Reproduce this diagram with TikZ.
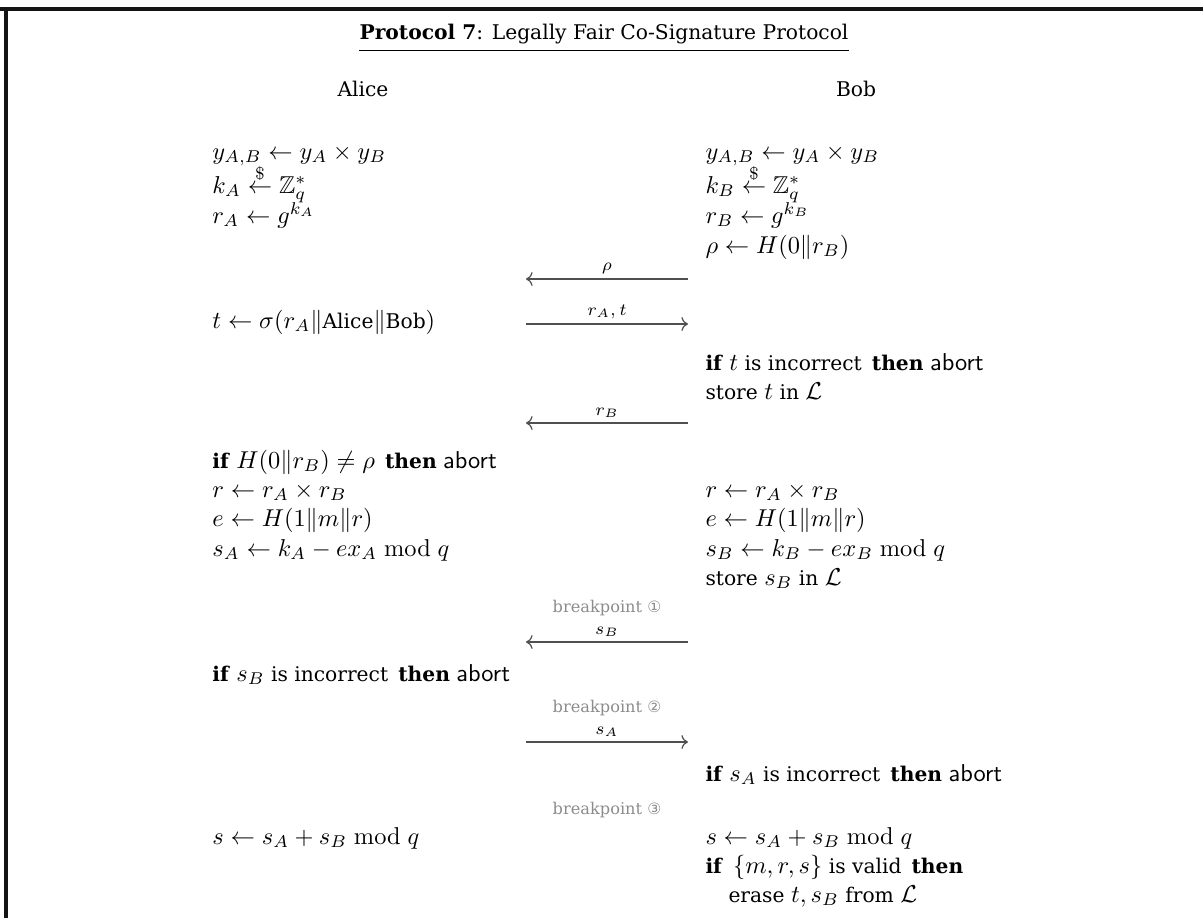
\documentclass[tikz,border=0pt]{standalone}
\usepackage[no-math]{fontspec}
\usepackage{amsmath,amssymb}
\usepackage{xcolor}
\usepackage{tikz}
\usetikzlibrary{arrows.meta, positioning}
\setmainfont{DejaVu Serif}[Scale=0.83]
\newfontfamily\circfont{DejaVu Sans}[Scale=0.8]
\definecolor{msgdark}{RGB}{80,80,80}
\definecolor{bpgray}{RGB}{140,140,140}
\definecolor{framedark}{RGB}{20,20,20}
\newcommand{\kw}[1]{\textbf{#1}}
\newcommand{\abrt}{\textsf{abort}}
\newcommand{\smp}{\overset{\$}{\leftarrow}}
\tikzset{
  stmt/.style={anchor=base west, inner sep=0pt},
  party/.style={anchor=base, inner sep=0pt},
  bpoint/.style={inner sep=0pt, color=bpgray, font=\footnotesize},
  msg/.style={line width=0.5pt, color=msgdark},
  msglbl/.style={above, inner sep=2pt, color=black, font=\scriptsize}
}

\begin{document}
\begin{tikzpicture}[x=0.41pt, y=-0.41pt]
  \useasboundingbox (0,0) rectangle (1203,918);

  % Frame
  \draw[line width=1.4pt, color=framedark] (0,9) -- (1203,9);
  \draw[line width=1.4pt, color=framedark] (6,9) -- (6,918);

  % Title
  \node[anchor=base, inner sep=0pt] (title) at (604,39)
    {\kw{Protocol 7}: Legally Fair Co-Signature Protocol};
  \draw[thin] ([yshift=-4.8pt]title.base west) -- ([yshift=-4.8pt]title.base east);

  % Parties
  \node[party] (alice) at (363,96) {Alice};
  \node[party] (bob) at (856,96) {Bob};

  % Alice, first round
  \node[stmt] (a1) at (212,159) {$y_{A,B} \leftarrow y_A \times y_B$};
  \node[stmt] (a2) at (212,193) {$k_A \smp \mathbb{Z}_q^*$};
  \node[stmt] (a3) at (212,223) {$r_A \leftarrow g^{k_A}$};

  % Bob, first round
  \node[stmt] (b1) at (705,159) {$y_{A,B} \leftarrow y_A \times y_B$};
  \node[stmt] (b2) at (705,193) {$k_B \smp \mathbb{Z}_q^*$};
  \node[stmt] (b3) at (705,223) {$r_B \leftarrow g^{k_B}$};
  \node[stmt] (b4) at (705,253) {$\rho \leftarrow H(0\|r_B)$};

  % Messages 1 and 2
  \coordinate (m1w) at (526,279);
  \coordinate (m1e) at (688,279);
  \draw[msg, <-] (m1w) -- node[msglbl] {$\rho$} (m1e);

  \node[stmt] (a4) at (212,328) {$t \leftarrow \sigma(r_A\|\text{Alice}\|\text{Bob})$};
  \coordinate (m2w) at (526,324);
  \coordinate (m2e) at (688,324);
  \draw[msg, ->] (m2w) -- node[msglbl] {$r_A,t$} (m2e);

  \node[stmt] (b5) at (705,370) {\kw{if} $t$ is incorrect\enspace\kw{then} \abrt};
  \node[stmt] (b6) at (705,399) {store $t$ in $\mathcal{L}$};

  % Message 3
  \coordinate (m3w) at (526,423);
  \coordinate (m3e) at (688,423);
  \draw[msg, <-] (m3w) -- node[msglbl] {$r_B$} (m3e);

  % Both sides compute r, e and their share
  \node[stmt] (a5) at (212,468) {\kw{if} $H(0\|r_B) \neq \rho$\enspace\kw{then} \abrt};
  \node[stmt] (a6) at (212,497) {$r \leftarrow r_A \times r_B$};
  \node[stmt] (a7) at (212,526) {$e \leftarrow H(1\|m\|r)$};
  \node[stmt] (a8) at (212,556) {$s_A \leftarrow k_A - e x_A \bmod q$};

  \node[stmt] (b7) at (705,497) {$r \leftarrow r_A \times r_B$};
  \node[stmt] (b8) at (705,526) {$e \leftarrow H(1\|m\|r)$};
  \node[stmt] (b9) at (705,556) {$s_B \leftarrow k_B - e x_B \bmod q$};
  \node[stmt] (b10) at (705,585) {store $s_B$ in $\mathcal{L}$};

  % Breakpoint 1, message 4
  \node[bpoint] (bp1) at (607,608) {breakpoint {\circfont ①}};
  \coordinate (m4w) at (526,642);
  \coordinate (m4e) at (688,642);
  \draw[msg, <-] (m4w) -- node[msglbl] {$s_B$} (m4e);

  \node[stmt] (a9) at (212,681) {\kw{if} $s_B$ is incorrect\enspace\kw{then} \abrt};

  % Breakpoint 2, message 5
  \node[bpoint] (bp2) at (607,708) {breakpoint {\circfont ②}};
  \coordinate (m5w) at (526,742);
  \coordinate (m5e) at (688,742);
  \draw[msg, ->] (m5w) -- node[msglbl] {$s_A$} (m5e);

  \node[stmt] (b11) at (705,781) {\kw{if} $s_A$ is incorrect\enspace\kw{then} \abrt};

  % Breakpoint 3, final signature
  \node[bpoint] (bp3) at (607,810) {breakpoint {\circfont ③}};

  \node[stmt] (a10) at (212,844) {$s \leftarrow s_A + s_B \bmod q$};
  \node[stmt] (b12) at (705,844) {$s \leftarrow s_A + s_B \bmod q$};
  \node[stmt] (b13) at (705,873) {\kw{if}\enspace$\{m,r,s\}$ is valid\enspace\kw{then}};
  \node[stmt] (b14) at (728,902) {erase $t, s_B$ from $\mathcal{L}$};
\end{tikzpicture}
\end{document}
